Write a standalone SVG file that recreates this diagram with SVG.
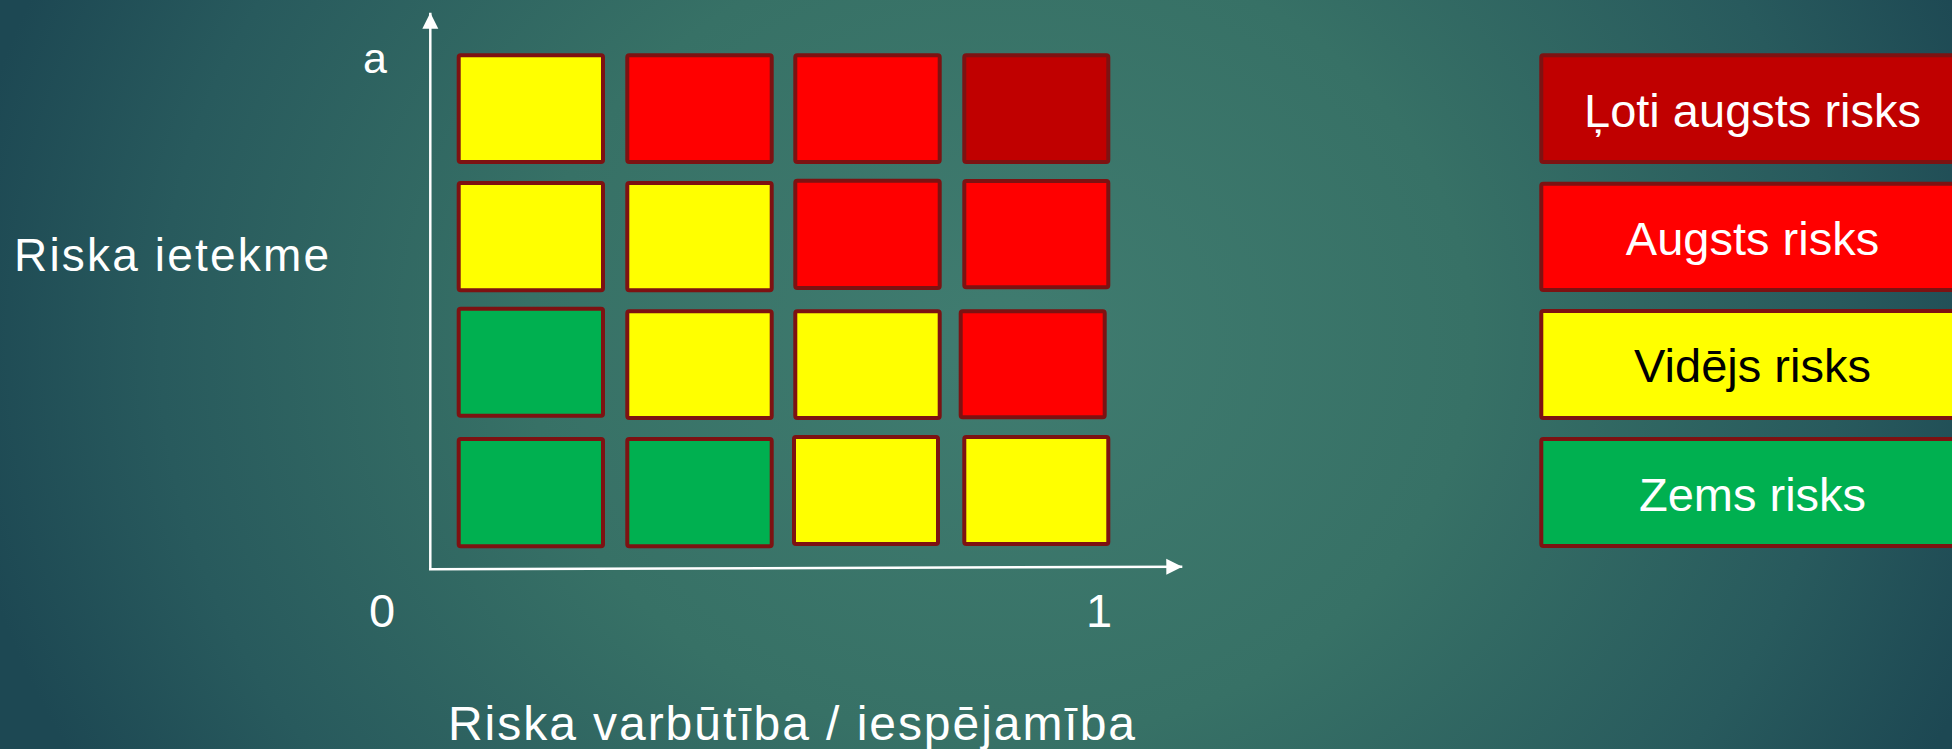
<svg xmlns="http://www.w3.org/2000/svg" width="1952" height="749" viewBox="0 0 1952 749">
  <defs>
    <radialGradient id="bg" gradientUnits="userSpaceOnUse" cx="1000" cy="340" r="1050" gradientTransform="translate(1000 340) scale(1 0.85) translate(-1000 -340)">
      <stop offset="0" stop-color="#407c70"/>
      <stop offset="0.45" stop-color="#377166"/>
      <stop offset="0.8" stop-color="#285a5d"/>
      <stop offset="1" stop-color="#1d4853"/>
    </radialGradient>
    <marker id="arrow" markerUnits="userSpaceOnUse" markerWidth="17" markerHeight="17" refX="16" refY="8" orient="auto" viewBox="0 0 17 16">
      <path d="M0,0 L16,8 L0,16 z" fill="#ffffff"/>
    </marker>
    <style>
      .cell { stroke: #7d1212; stroke-width: 4; }
      .y { fill: #ffff00; }
      .r { fill: #ff0000; }
      .dr { fill: #c00000; }
      .g { fill: #00b050; }
      .lbl { font-family: "Liberation Sans", Arial, sans-serif; fill: #ffffff; }
      .axis { stroke: #ffffff; stroke-width: 2.5; fill: none; }
    </style>
  </defs>

  <rect x="0" y="0" width="1952" height="749" fill="url(#bg)"/>

  <g id="connectors">
    <line class="axis" x1="430.3" y1="570" x2="430.3" y2="12.7" marker-end="url(#arrow)"/>
    <line class="axis" x1="429" y1="569.3" x2="1182.3" y2="566.7" marker-end="url(#arrow)"/>
  </g>

  <g id="axis-labels">
    <text class="lbl" x="375" y="72.7" font-size="43" text-anchor="middle">a</text>
    <text class="lbl" x="382" y="627" font-size="47" text-anchor="middle">0</text>
    <text class="lbl" x="1099" y="627" font-size="47" text-anchor="middle">1</text>
    <text id="y-label" class="lbl" x="14" y="271" font-size="46" textLength="315">Riska ietekme</text>
    <text id="x-label" class="lbl" x="448" y="740" font-size="48" textLength="687">Riska varbūtība / iespējamība</text>
  </g>

  <g id="grid">
    <g id="cell-r1c1"><rect class="cell y" x="458.7" y="55.3" width="144.3" height="106.7" rx="2"/></g>
    <g id="cell-r1c2"><rect class="cell r" x="627.3" y="55.3" width="144.4" height="106.7" rx="2"/></g>
    <g id="cell-r1c3"><rect class="cell r" x="795.3" y="55.3" width="144.4" height="106.7" rx="2"/></g>
    <g id="cell-r1c4"><rect class="cell dr" x="964.3" y="55.3" width="144" height="106.7" rx="2"/></g>

    <g id="cell-r2c1"><rect class="cell y" x="458.7" y="183" width="144.3" height="107.3" rx="2"/></g>
    <g id="cell-r2c2"><rect class="cell y" x="627.3" y="183" width="144.4" height="107.3" rx="2"/></g>
    <g id="cell-r2c3"><rect class="cell r" x="795.3" y="180.7" width="144.4" height="107.3" rx="2"/></g>
    <g id="cell-r2c4"><rect class="cell r" x="964.3" y="181" width="144" height="106.3" rx="2"/></g>

    <g id="cell-r3c1"><rect class="cell g" x="458.7" y="308.7" width="144.3" height="107" rx="2"/></g>
    <g id="cell-r3c2"><rect class="cell y" x="627.3" y="311.3" width="144.4" height="106.7" rx="2"/></g>
    <g id="cell-r3c3"><rect class="cell y" x="795.3" y="311.3" width="144.4" height="106.7" rx="2"/></g>
    <g id="cell-r3c4"><rect class="cell r" x="960.7" y="311.3" width="144" height="106" rx="2"/></g>

    <g id="cell-r4c1"><rect class="cell g" x="458.7" y="439" width="144.3" height="107.3" rx="2"/></g>
    <g id="cell-r4c2"><rect class="cell g" x="627.3" y="439" width="144.4" height="107.3" rx="2"/></g>
    <g id="cell-r4c3"><rect class="cell y" x="794" y="437" width="144" height="107" rx="2"/></g>
    <g id="cell-r4c4"><rect class="cell y" x="964.3" y="437" width="144" height="107" rx="2"/></g>
  </g>

  <g id="legend">
    <g id="legend-very-high">
      <rect class="cell dr" x="1541.3" y="55.3" width="430" height="106.7" rx="2"/>
      <text class="lbl" x="1752.5" y="127.3" font-size="47" text-anchor="middle">Ļoti augsts risks</text>
    </g>
    <g id="legend-high">
      <rect class="cell r" x="1541.3" y="183.7" width="430" height="106.3" rx="2"/>
      <text class="lbl" x="1752.5" y="255" font-size="47" text-anchor="middle">Augsts risks</text>
    </g>
    <g id="legend-medium">
      <rect class="cell y" x="1541.3" y="311" width="430" height="107" rx="2"/>
      <text class="lbl" x="1752.5" y="382.3" font-size="47" text-anchor="middle" style="fill:#000000">Vidējs risks</text>
    </g>
    <g id="legend-low">
      <rect class="cell g" x="1541.3" y="439" width="430" height="107" rx="2"/>
      <text class="lbl" x="1752.5" y="510.7" font-size="47" text-anchor="middle">Zems risks</text>
    </g>
  </g>
</svg>
